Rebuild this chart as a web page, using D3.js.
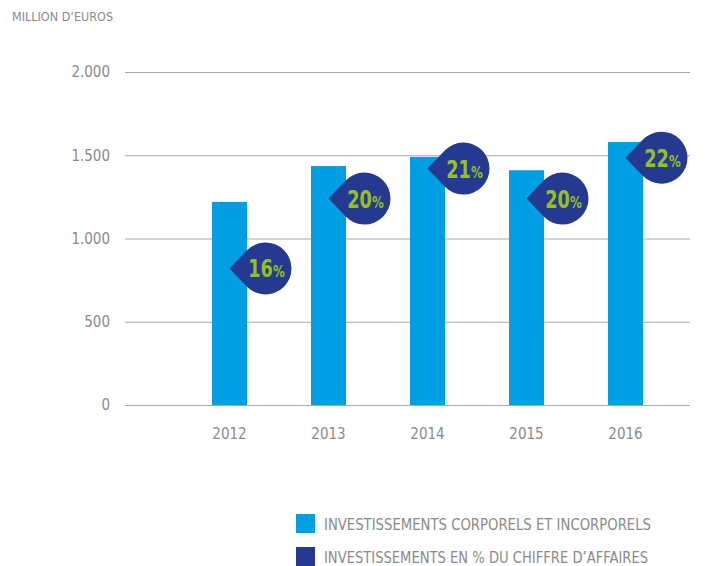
<!DOCTYPE html>
<html>
<head>
<meta charset="utf-8">
<script src="https://cdn.jsdelivr.net/npm/d3@7"></script>
<style>
  body { margin: 0; background: #fff; }
  svg text { font-family: "Liberation Sans Narrow", "DejaVu Sans Condensed", "Open Sans", sans-serif; }
</style>
</head>
<body>
<div id="root"></div>
<script>
const years = ["2012", "2013", "2014", "2015", "2016"];
const invest = [1220, 1435, 1490, 1410, 1580];
const pctOfSales = [16, 20, 21, 20, 22];
// where each % bubble sits, in million euros on the same axis
const bubbleAt = [820, 1240, 1420, 1240, 1485];
const yTicks = [0, 500, 1000, 1500, 2000];
const legendLabels = [
  "INVESTISSEMENTS CORPORELS ET INCORPORELS",
  "INVESTISSEMENTS EN % DU CHIFFRE D\u2019AFFAIRES"
];

const width = 707, height = 566;
const grey = "#8a8a8a";
const barColor = "#009fe3";
const navy = "#253990";
const green = "#95c11f";

const svg = d3.select("#root").append("svg")
  .attr("width", width)
  .attr("height", height);

const x = d3.scaleBand()
  .domain(years)
  .range([180, 675])
  .paddingInner(0.646)
  .paddingOuter(0.323);

const y = d3.scaleLinear().domain([0, 2000]).range([405, 72]);

const fmt = d3.formatLocale({ decimal: ",", thousands: ".", grouping: [3], currency: ["", "€"] }).format(",");

// unit label
svg.append("text")
  .attr("x", 12).attr("y", 21)
  .attr("font-size", 12.5)
  .attr("fill", grey)
  .text("MILLION D\u2019EUROS");

// grid + y labels
const yAxis = svg.append("g")
  .attr("transform", "translate(125,0)")
  .call(d3.axisLeft(y).tickValues(yTicks).tickSize(-565).tickPadding(15).tickFormat(fmt));
yAxis.select(".domain").remove();
yAxis.selectAll(".tick line").attr("stroke", "#a8a8a8").attr("stroke-width", 1.2);
yAxis.selectAll(".tick text")
  .attr("fill", grey)
  .attr("font-size", 15)
  .style("font-family", "'Liberation Sans Narrow', 'DejaVu Sans Condensed', sans-serif");

// bars
svg.selectAll(".bar")
  .data(years)
  .enter().append("rect")
  .attr("class", "bar")
  .attr("x", d => x(d))
  .attr("width", x.bandwidth())
  .attr("y", (d, i) => y(invest[i]))
  .attr("height", (d, i) => y(0) - y(invest[i]))
  .attr("fill", barColor);

// x labels
const xAxis = svg.append("g")
  .attr("transform", "translate(0,405)")
  .call(d3.axisBottom(x).tickSize(0).tickPadding(23));
xAxis.select(".domain").remove();
xAxis.selectAll(".tick text")
  .attr("fill", grey)
  .attr("font-size", 15)
  .style("font-family", "'Liberation Sans Narrow', 'DejaVu Sans Condensed', sans-serif");

// % bubbles: circle with a point on the left touching the bar centre
const r = 26, off = 36;
const bubble = svg.selectAll(".bubble")
  .data(years)
  .enter().append("g")
  .attr("class", "bubble")
  .attr("transform", (d, i) => `translate(${x(d) + x.bandwidth() / 2},${y(bubbleAt[i])})`);

const a = Math.acos(r / off);
bubble.append("path")
  .attr("d", () => {
    const px = off - r * Math.cos(a), py = r * Math.sin(a);
    return `M0,0 L${px},${-py} A${r},${r} 0 1 1 ${px},${py} Z`;
  })
  .attr("fill", navy);

const lbl = bubble.append("text")
  .attr("transform", `translate(${off + 1},9) scale(0.82,1)`)
  .attr("text-anchor", "middle")
  .attr("fill", green)
  .attr("font-weight", "bold");
lbl.append("tspan").attr("font-size", 24).text((d, i) => pctOfSales[i]);
lbl.append("tspan").attr("font-size", 16).text("%");

// legend
const legendLen = [327, 324];
const legend = svg.selectAll(".legend")
  .data(legendLabels)
  .enter().append("g")
  .attr("class", "legend")
  .attr("transform", (d, i) => `translate(296,${514 + i * 33})`);
legend.append("rect")
  .attr("width", 19).attr("height", 19)
  .attr("fill", (d, i) => i === 0 ? barColor : navy);
legend.append("text")
  .attr("x", 28).attr("y", 15.5)
  .attr("font-size", 15)
  .attr("textLength", (d, i) => legendLen[i])
  .attr("lengthAdjust", "spacingAndGlyphs")
  .attr("fill", grey)
  .text(d => d);
</script>
</body>
</html>
